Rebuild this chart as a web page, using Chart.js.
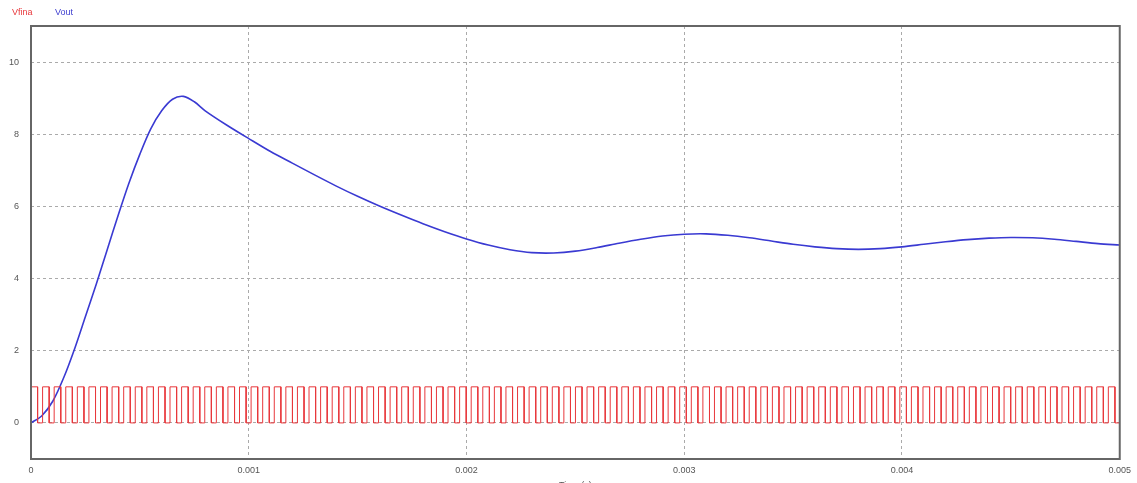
<!DOCTYPE html>
<html>
<head>
<meta charset="utf-8">
<script src="https://cdn.jsdelivr.net/npm/chart.js@4"></script>
<style>
  html, body { margin: 0; padding: 0; background: #fff; }
  .wrap { position: relative; width: 1137px; height: 483px; }
  .legend { position: absolute; top: 7px; font-family: "Liberation Sans", Arial, sans-serif; font-size: 9px; }
</style>
</head>
<body>
<div class="wrap">
  <span class="legend" style="left:12px;color:#e8383c">Vfina</span>
  <span class="legend" style="left:55px;color:#4040d0">Vout</span>
  <canvas id="chart" width="1137" height="483"></canvas>
</div>
<script>
// Vout (time in s, volts)
const voutTime = [0, 0.00005, 0.0001, 0.00015, 0.0002, 0.00025, 0.0003, 0.00035, 0.0004, 0.00045,
  0.0005, 0.00055, 0.0006, 0.00065, 0.0007, 0.00075, 0.0008, 0.0009, 0.001, 0.0011,
  0.0012, 0.0013, 0.0014, 0.0015, 0.0016, 0.0017, 0.0018, 0.0019, 0.002, 0.0021,
  0.0022, 0.0023, 0.0024, 0.0025, 0.0026, 0.0027, 0.0028, 0.0029, 0.003, 0.0031,
  0.0032, 0.0033, 0.0034, 0.0035, 0.0036, 0.0037, 0.0038, 0.0039, 0.004, 0.0041,
  0.0042, 0.0043, 0.0044, 0.0045, 0.0046, 0.0047, 0.0048, 0.0049, 0.005];
const voutValues = [0, 0.2, 0.6, 1.25, 2.05, 2.95, 3.85, 4.8, 5.75, 6.65,
  7.45, 8.15, 8.65, 8.97, 9.05, 8.9, 8.65, 8.25, 7.88, 7.52,
  7.2, 6.88, 6.57, 6.28, 6.01, 5.76, 5.52, 5.3, 5.1, 4.93,
  4.8, 4.72, 4.71, 4.76, 4.86, 4.98, 5.09, 5.18, 5.23, 5.24,
  5.2, 5.13, 5.04, 4.95, 4.88, 4.83, 4.81, 4.83, 4.88, 4.95,
  5.02, 5.08, 5.12, 5.14, 5.13, 5.09, 5.03, 4.97, 4.93];

// Vfina: PWM gate signal
const vfinaLevels = [0, 1];
const pwmPeriod = 0.0000532;
const pwmDuty = 0.57;

const xTicks = [0, 0.001, 0.002, 0.003, 0.004, 0.005];
const yTicks = [0, 2, 4, 6, 8, 10];

const voutData = voutTime.map((t, i) => ({ x: t, y: voutValues[i] }));

var vfinaData = [];
for (var t0 = 0; t0 < 0.005; t0 += pwmPeriod) {
  var t1 = Math.min(t0 + pwmPeriod * pwmDuty, 0.005);
  var t2 = Math.min(t0 + pwmPeriod, 0.005);
  vfinaData.push({ x: t0, y: vfinaLevels[0] }, { x: t0, y: vfinaLevels[1] },
                 { x: t1, y: vfinaLevels[1] }, { x: t1, y: vfinaLevels[0] },
                 { x: t2, y: vfinaLevels[0] });
}

const frame = {
  id: 'frame',
  afterDraw(chart) {
    const a = chart.chartArea, c = chart.ctx;
    c.save();
    c.strokeStyle = '#666';
    c.lineWidth = 2;
    c.strokeRect(a.left, a.top, a.right - a.left, a.bottom - a.top);
    c.restore();
  }
};

new Chart(document.getElementById('chart'), {
  type: 'line',
  data: {
    datasets: [
      { label: 'Vfina', data: vfinaData, borderColor: '#e8383c', borderWidth: 1, pointRadius: 0, tension: 0 },
      { label: 'Vout', data: voutData, borderColor: '#3a3ad2', borderWidth: 1.6, pointRadius: 0, tension: 0.3 }
    ]
  },
  options: {
    responsive: false,
    animation: false,
    layout: { padding: { top: 26, right: 16, left: 0, bottom: 0 } },
    plugins: { legend: { display: false }, tooltip: { enabled: false } },
    scales: {
      x: {
        type: 'linear',
        min: 0, max: 0.005,
        afterBuildTicks: s => { s.ticks = xTicks.map(v => ({ value: v })); },
        afterFit: s => { s.height = 24; },
        grid: { color: '#aaa', drawTicks: false },
        border: { display: false, dash: [3, 3] },
        ticks: {
          padding: 6, color: '#555', maxRotation: 0,
          font: { family: 'Liberation Sans', size: 9 },
          callback: v => v === 0 ? '0' : String(+v.toFixed(3))
        },
        title: { display: true, text: 'Time (s)', color: '#555', font: { family: 'Liberation Sans', size: 9 }, padding: { top: 0, bottom: -8 } }
      },
      y: {
        min: -1, max: 11,
        afterBuildTicks: s => { s.ticks = yTicks.map(v => ({ value: v })); },
        afterFit: s => { s.width = 31; },
        grid: { color: '#aaa', drawTicks: false },
        border: { display: false, dash: [3, 3] },
        ticks: { padding: 12, color: '#555', font: { family: 'Liberation Sans', size: 9 } }
      }
    }
  },
  plugins: [frame]
});
</script>
</body>
</html>
